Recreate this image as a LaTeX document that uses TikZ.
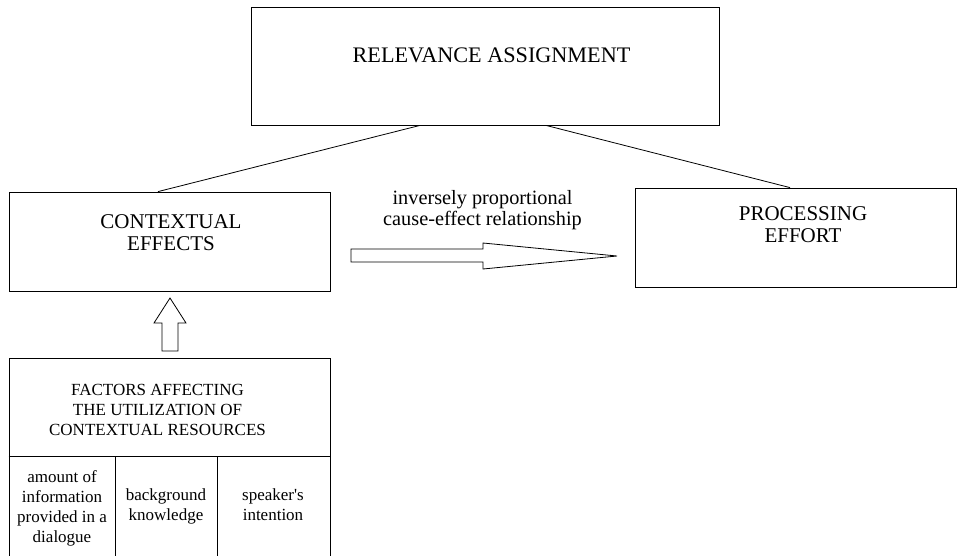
\documentclass[tikz,border=0pt]{standalone}
\usepackage{fontspec}
\setmainfont{Liberation Serif}
\usetikzlibrary{calc}
\begin{document}
\begin{tikzpicture}[x=1pt,y=-1pt,
  box/.style={draw, line width=0.8pt, inner sep=0pt},
  toptxt/.style={inner sep=0pt, align=center, font=\fontsize{22.2}{26}\selectfont},
  txt/.style={inner sep=0pt, align=center, font=\fontsize{21}{22}\selectfont},
  labtxt/.style={inner sep=0pt, align=center, font=\fontsize{20.3}{21}\selectfont},
  small/.style={inner sep=0pt, align=center, font=\fontsize{17}{20}\selectfont},
  conn/.style={line width=0.8pt},
  blockarrow/.style={draw, line width=0.8pt, fill=white, line join=miter}]
\useasboundingbox (0,0) rectangle (957,555);
\begin{scope}
\clip (0,0) rectangle (957,555);
% top box
\node[box, minimum width=468, minimum height=118] (rel) at (485,66) {};
\node[toptxt] (relt) at (491.5,55.5) {RELEVANCE ASSIGNMENT};
% contextual effects
\node[box, minimum width=321, minimum height=99] (ctx) at (169.5,241.5) {};
\node[txt] (ctxt) at (171,232.5) {CONTEXTUAL\\EFFECTS};
% processing effort
\node[box, minimum width=321, minimum height=99] (proc) at (795.5,237.5) {};
\node[txt] (proct) at (803,225) {PROCESSING\\EFFORT};
% connectors
\draw[conn] ([xshift=-65pt]rel.south) -- ([xshift=-11.5pt]ctx.north);
\draw[conn] ([xshift=61pt]rel.south) -- ([xshift=-5.5pt]proc.north);
% label
\node[labtxt] (lab) at (482.5,209.7) {inversely proportional\\cause-effect relationship};
% horizontal block arrow
\draw[blockarrow] (351,249) -- (483,249) -- (483,243) -- (617,256) -- (483,269) -- (483,262) -- (351,262) -- cycle;
% factors box
\node[box, minimum width=321, minimum height=250, anchor=north] (fac) at (169.5,358) {};
\draw[conn] (fac.west |- 0,456) coordinate (dl) -- (fac.east |- 0,456) coordinate (dr);
\draw[conn] (115,456) coordinate (c1) -- (115,560);
\draw[conn] (217.5,456) coordinate (c2) -- (217.5,560);
\node[small] (fact) at (157.5,409.5) {FACTORS AFFECTING\\THE UTILIZATION OF\\CONTEXTUAL RESOURCES};
\node[small] (col1) at (62,508) {amount of\\information\\provided in a\\dialogue};
\node[small] (col2) at (166,506) {background\\knowledge};
\node[small] (col3) at (273,504.2) {speaker\textquotesingle s\\intention};
% up block arrow
\draw[blockarrow] (162,351) -- (162,323) -- (154,323) -- (170,298) -- (186,323) -- (178,323) -- (178,351) -- cycle;
\end{scope}
\end{tikzpicture}
\end{document}
